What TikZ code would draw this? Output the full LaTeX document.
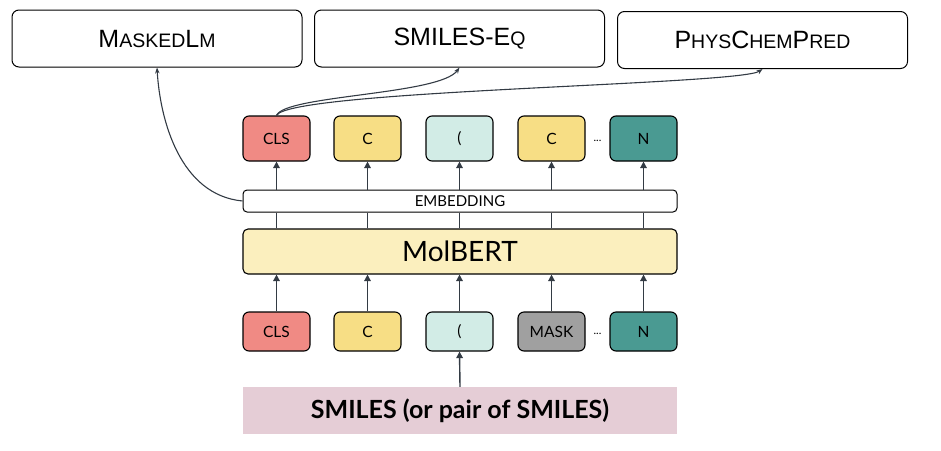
\documentclass[tikz,border=0pt]{standalone}
\usepackage{fontspec}
\setmainfont{Lato}
\newfontfamily\capfont{Liberation Sans}
\usetikzlibrary{arrows.meta}
\definecolor{clsc}{HTML}{F08A84}
\definecolor{cc}{HTML}{F7DE85}
\definecolor{parc}{HTML}{D2ECE6}
\definecolor{nc}{HTML}{4A9A92}
\definecolor{maskc}{HTML}{A0A0A0}
\definecolor{molc}{HTML}{FBEFBE}
\definecolor{smic}{HTML}{E5CDD6}
\definecolor{linec}{HTML}{333B44}
\newcommand{\sck}[1]{{\fontsize{19.5}{19.5}\selectfont #1}}
\begin{document}
\begin{tikzpicture}[x=1pt,y=-1pt,
  task/.style={draw=black,line width=1pt,rounded corners=7pt,fill=white,minimum width=290pt,minimum height=57pt,font=\capfont\fontsize{25}{25}\selectfont},
  tok/.style={draw=black,line width=1.1pt,rounded corners=6pt,minimum width=67pt,minimum height=45pt,font=\fontsize{15.5}{15.5}\selectfont},
  tokl/.style={tok,minimum height=39pt},
  arr/.style={draw=linec,line width=1.4pt,-{Triangle[length=6.5pt,width=6.5pt]}},
  thin/.style={draw=linec,line width=1.3pt},
  curv/.style={draw=linec,line width=1.1pt,-{Stealth[length=6pt,width=4.5pt]}},
  dots/.style={font=\fontsize{11}{11}\selectfont}]
\useasboundingbox (0,0) rectangle (941,450);
% tasks
\node[task] (mlm) at (157,38.5) {M\sck{ASKED}L\sck{M}};
\node[task] (seq) at (459.5,38.5) {SMILES-E\sck{Q}};
\node[task] (pcp) at (762.5,40) {P\sck{HYS}C\sck{HEM}P\sck{RED}};
% upper tokens
\node[tok,fill=clsc] (u1) at (276.5,138.5) {CLS};
\node[tok,fill=cc] (u2) at (367.5,138.5) {C};
\node[tok,fill=parc] (u3) at (459.5,138.5) {(};
\node[tok,fill=cc] (u4) at (551.5,138.5) {C};
\node[tok,fill=nc] (u5) at (643.5,138.5) {N};
\node[dots] (ud) at (597.5,141) {...};
% embedding
\node[draw=black,line width=1pt,rounded corners=4pt,fill=white,minimum width=434pt,minimum height=22pt,font=\fontsize{15}{15}\selectfont] (emb) at (460,201) {EMBEDDING};
% molbert
\node[draw=black,line width=1.1pt,rounded corners=5pt,fill=molc,minimum width=434pt,minimum height=45pt,font=\fontsize{28}{28}\selectfont] (mol) at (460,251.5) {MolBERT};
% lower tokens
\node[tokl,fill=clsc] (l1) at (276.5,331.5) {CLS};
\node[tokl,fill=cc] (l2) at (367.5,331.5) {C};
\node[tokl,fill=parc] (l3) at (459.5,331.5) {(};
\node[tokl,fill=maskc] (l4) at (551.5,331.5) {MASK};
\node[tokl,fill=nc] (l5) at (643.5,331.5) {N};
\node[dots] (ld) at (597.5,334) {...};
% smiles
\node[fill=smic,minimum width=434pt,minimum height=47pt,font=\bfseries\fontsize{25}{25}\selectfont] (smi) at (460,410.5) {SMILES (or pair of SMILES)};
% arrows emb -> upper tokens
\foreach \i in {1,...,5}{
  \draw[arr] (u\i.south |- emb.north) -- (u\i.south);
  \draw[thin] (u\i.south |- mol.north) -- (u\i.south |- emb.south);
  \draw[arr] (l\i.north) -- (l\i.north |- mol.south);
}
\draw[arr] (smi.north) -- (l3.south);
% curves
\draw[curv] (emb.west) .. controls (180,195) and (160,120) .. (mlm.south);
\draw[curv] (u1.north) .. controls (285,95) and (440,95) .. (seq.south);
\draw[curv] (u1.north) .. controls (290,90) and (740,85) .. (pcp.south);
\end{tikzpicture}
\end{document}
